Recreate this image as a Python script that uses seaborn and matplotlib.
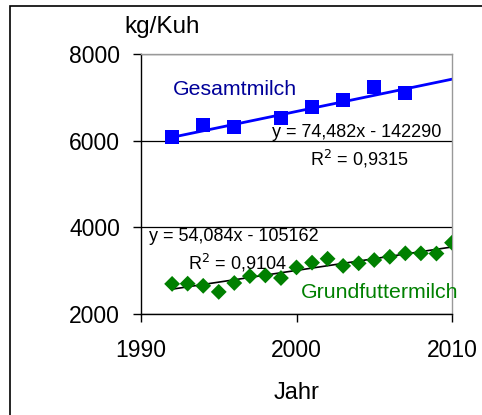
import numpy as np
import pandas as pd
import matplotlib
matplotlib.use("Agg")
import matplotlib.pyplot as plt
import seaborn as sns
from matplotlib.patches import Rectangle

# --- Daten ---
jahre_gesamt = [1992, 1994, 1996, 1999, 2001, 2003, 2005, 2007]
gesamtmilch = [6085, 6360, 6315, 6520, 6775, 6935, 7240, 7100]

jahre_grund = list(range(1992, 2011))
grundfuttermilch = [2695, 2700, 2650, 2510, 2715, 2875, 2890, 2830, 3075,
                    3185, 3275, 3110, 3170, 3245, 3320, 3400, 3400, 3395, 3645]

# Trendlinien (Excel-Angaben)
trend_gesamt = (74.482, -142290)
trend_grund = (54.084, -105162)
trend_x = [1992, 2010]

x_ticks = [1990, 2000, 2010]
y_ticks = [2000, 4000, 6000, 8000]

df_g = pd.DataFrame({"Jahr": jahre_gesamt, "Wert": gesamtmilch})
df_f = pd.DataFrame({"Jahr": jahre_grund, "Wert": grundfuttermilch})
df_tg = pd.DataFrame({"Jahr": trend_x,
                      "Wert": [trend_gesamt[0] * x + trend_gesamt[1] for x in trend_x]})
df_tf = pd.DataFrame({"Jahr": trend_x,
                      "Wert": [trend_grund[0] * x + trend_grund[1] for x in trend_x]})

sns.set_style("white")
plt.rcParams['font.family'] = ['Liberation Sans', 'DejaVu Sans']
plt.rcParams['text.color'] = 'black'

fig = plt.figure(figsize=(4.82, 4.15), dpi=100)
ax = fig.add_axes([141 / 482, 1 - 314 / 415, 311 / 482, 260 / 415])

# Rahmen um die Grafik
fig.patches.append(Rectangle((10 / 482, -0.1), 1.2, 1 - 6 / 415 + 0.1,
                             transform=fig.transFigure, fill=False,
                             edgecolor="black", linewidth=1.2))

sns.lineplot(data=df_tg, x="Jahr", y="Wert", color="#0000FF", linewidth=2, ax=ax)
sns.lineplot(data=df_tf, x="Jahr", y="Wert", color="black", linewidth=1.2, ax=ax)
sns.scatterplot(data=df_g, x="Jahr", y="Wert", marker="s", s=100, color="#0000FF",
                edgecolor="none", ax=ax, zorder=3)
sns.scatterplot(data=df_f, x="Jahr", y="Wert", marker="D", s=65, color="#008000",
                edgecolor="none", ax=ax, zorder=3)

ax.set_xlim(1990, 2010)
ax.set_ylim(2000, 8000)
ax.set_xticks(x_ticks)
ax.set_yticks(y_ticks)
ax.tick_params(axis="both", labelsize=16.5, length=6, width=1, color="black",
               labelcolor="black", direction="out", left=True, bottom=True)
ax.tick_params(axis="x", pad=12)
ax.tick_params(axis="y", pad=9)
ax.yaxis.grid(True, color="black", linewidth=0.9)
ax.set_axisbelow(True)
for s in ["left", "bottom"]:
    ax.spines[s].set_color("black")
    ax.spines[s].set_linewidth(1)
for s in ["top", "right"]:
    ax.spines[s].set_color("#999999")
    ax.spines[s].set_linewidth(1)

ax.set_xlabel("Jahr", fontsize=17, color="black")
ax.xaxis.set_label_coords(0.5, -0.26)
ax.set_ylabel("")
fig.text(124 / 482, 1 - 27 / 415, "kg/Kuh", fontsize=17.5, va="center", ha="left")

ax.text(1992.05, 7190, "Gesamtmilch", color="#000099", fontsize=15.3, va="center")
ax.text(1998.4, 6185, "y = 74,482x - 142290", fontsize=13, va="center")
ax.text(2000.9, 5580, "R$^2$ = 0,9315", fontsize=13, va="center")
ax.text(1990.5, 3785, "y = 54,084x - 105162", fontsize=13, va="center")
ax.text(1993.0, 3180, "R$^2$ = 0,9104", fontsize=13, va="center")
ax.text(2000.3, 2490, "Grundfuttermilch", color="#008000", fontsize=15.3,
        va="center", clip_on=False)

fig.savefig("out.png", dpi=100)
